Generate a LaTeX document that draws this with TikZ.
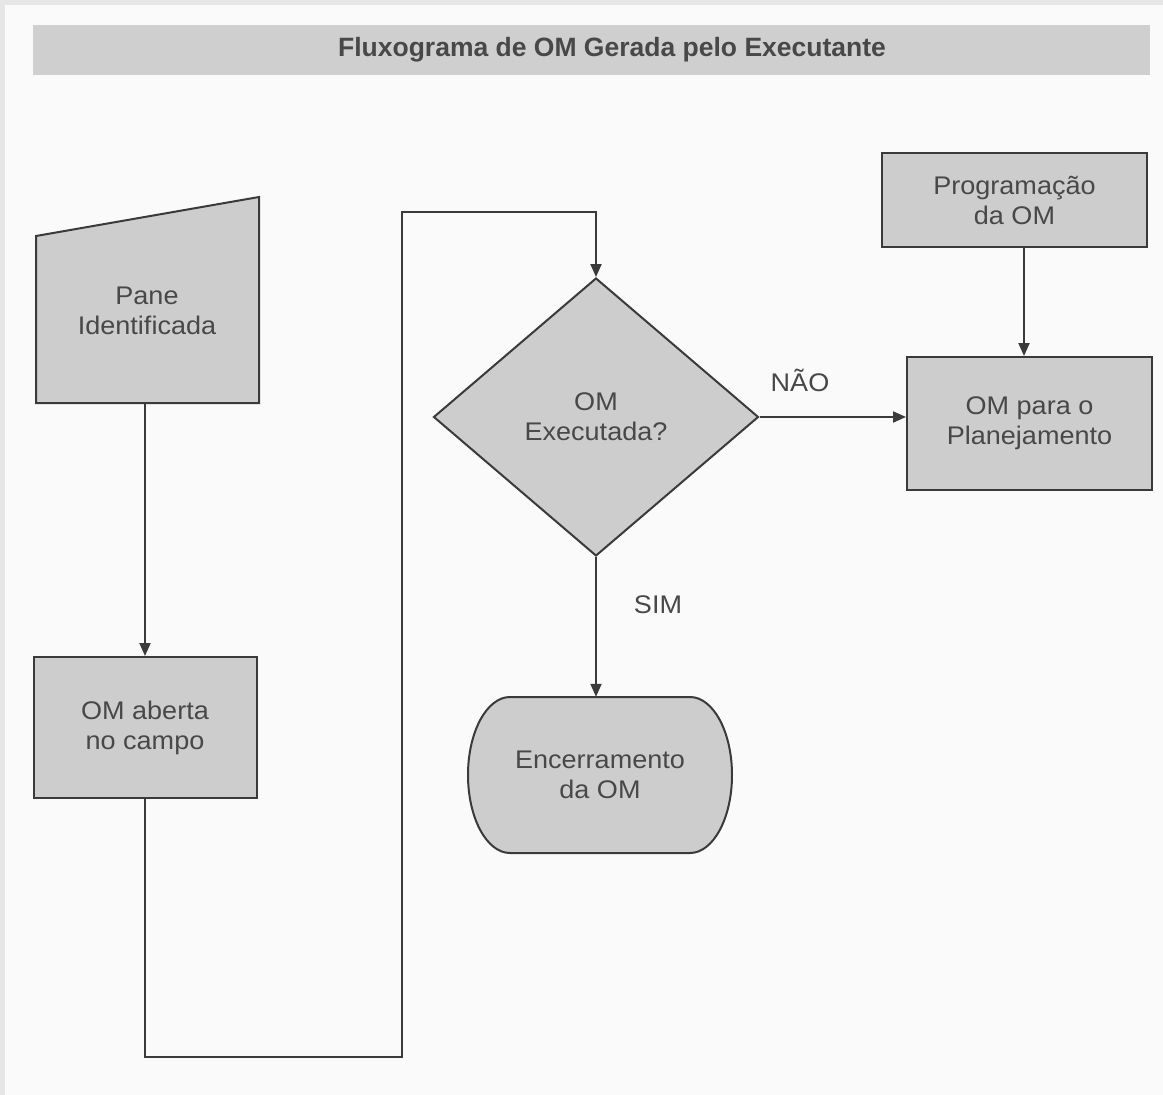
\documentclass[tikz,border=0pt]{standalone}
\usepackage{fontspec}
\setmainfont{Liberation Sans}[FakeStretch=1.06]
\newfontfamily\titlefont{Liberation Sans}
\usetikzlibrary{arrows.meta,shapes.geometric,positioning}
\definecolor{inkline}{HTML}{3A3A3A}
\definecolor{inktext}{HTML}{484848}
\definecolor{boxgray}{HTML}{CDCDCD}
\definecolor{paper}{HTML}{FAFAFA}
\definecolor{edge}{HTML}{E6E6E6}
\definecolor{band}{HTML}{CFCFCF}

\begin{document}
\begin{tikzpicture}[x=1pt,y=1pt,yscale=-1,
  every node/.style={text=inktext,font=\fontsize{25.5}{30}\selectfont,align=center},
  boxnode/.style={draw=inkline,line width=2pt,fill=boxgray,inner sep=0pt},
  flow/.style={draw=inkline,line width=2pt,-{Triangle[length=13pt,width=11pt]}},
  flowlabel/.style={inner sep=0pt}]
%page and frame
\useasboundingbox (0,0) rectangle (1163,1095);
\fill[edge] (0,0) rectangle (1163,1095);
\fill[paper] (5,5) rectangle (1163,1095);

%Title band
\fill[band] (33,25) rectangle (1150,75);
\node[font=\titlefont\bfseries\fontsize{26.5}{30}\selectfont] (title) at (612,50) {Fluxograma de OM Gerada pelo Executante};

%Shape: Manual input
\draw[line width=2pt,draw=inkline,fill=boxgray] (36,236) -- (259,197) -- (259,403) -- (36,403) -- cycle;
\node (pane) at (147,311) {Pane\\Identificada};
\coordinate (pane-s) at (145,403);

%Shape: Rectangle
\node[boxnode,minimum width=223,minimum height=141] (aberta) at (145,727.5) {OM aberta\\no campo};

%Shape: Diamond
\node[boxnode,diamond,minimum width=325,minimum height=278] (diam) at (596,417) {OM\\Executada?};

%Shape: Rectangle
\node[boxnode,minimum width=265,minimum height=94] (prog) at (1014.5,200) {Programa\c{c}\~ao\\da OM};
\node[boxnode,minimum width=245,minimum height=133] (plan) at (1029.5,423.5) {OM para o\\Planejamento};

%Shape: Terminal
\draw[line width=2pt,draw=inkline,fill=boxgray] (510,697) -- (690,697)
  arc[start angle=-90,end angle=90,x radius=42,y radius=78] -- (510,853)
  arc[start angle=90,end angle=270,x radius=42,y radius=78] -- cycle;
\node[minimum width=264,minimum height=156] (fim) at (600,775) {Encerramento\\da OM};

%Straight Lines
\draw[flow] (pane-s) -- (aberta.north);
\coordinate (loop-a) at (145,1057);
\coordinate (loop-b) at (402,1057);
\coordinate (loop-c) at (402,212);
\draw[flow] (aberta.south) -- (loop-a) -- (loop-b) -- (loop-c) -| (diam.north);
\draw[flow] (diam.east) -- (diam.east -| plan.west);
\coordinate (prog-s) at (1024,247);
\draw[flow] (prog-s) -- (prog-s |- plan.north);
\draw[flow] (diam.south) -- (diam.south |- fim.north);

% Text Node
\node[flowlabel] (nao) at (800,380) {NÃO};
% Text Node
\node[flowlabel] (sim) at (658,605) {SIM};
\end{tikzpicture}
\end{document}
